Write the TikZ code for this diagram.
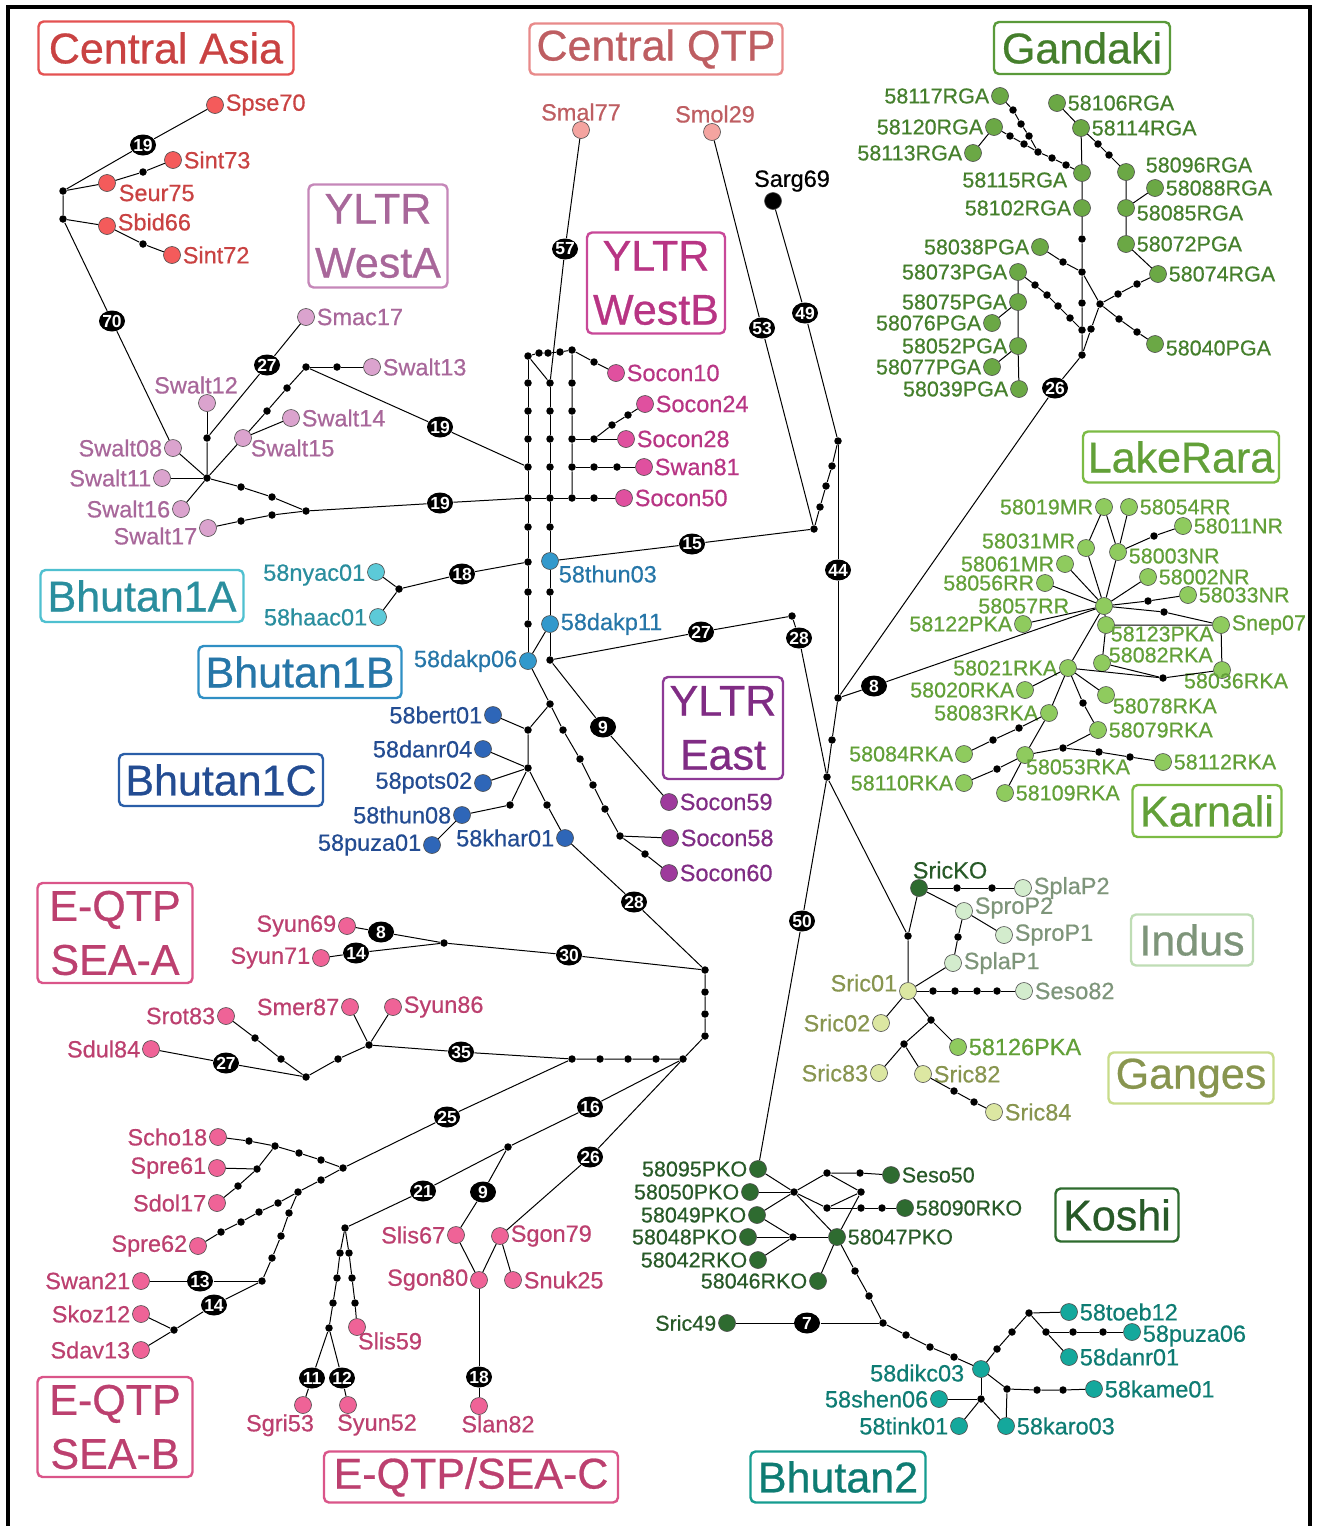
\documentclass[tikz,border=0pt]{standalone}
\usepackage{fontspec}
\setmainfont[FakeBold=0.6]{Liberation Sans}
\newfontfamily\mutfont{Liberation Sans Bold}
\usetikzlibrary{shapes.geometric}

% F = haplotype fill, T = text, B = box
\definecolor{caF}{HTML}{F45B5B}\definecolor{caT}{HTML}{C94242}\definecolor{caB}{HTML}{E45252}
\definecolor{cqF}{HTML}{F4A4A0}\definecolor{cqT}{HTML}{BE5E62}\definecolor{cqB}{HTML}{E88A8A}
\definecolor{waF}{HTML}{DBA3CE}\definecolor{waT}{HTML}{A8679A}\definecolor{waB}{HTML}{C587B9}
\definecolor{wbF}{HTML}{E0509F}\definecolor{wbT}{HTML}{B83584}\definecolor{wbB}{HTML}{C84898}
\definecolor{eaF}{HTML}{9E3A9C}\definecolor{eaT}{HTML}{802C84}\definecolor{eaB}{HTML}{8E3A96}
\definecolor{baF}{HTML}{5CCAD8}\definecolor{baT}{HTML}{2A8E9E}\definecolor{baB}{HTML}{4FC0D0}
\definecolor{bbF}{HTML}{3399CC}\definecolor{bbT}{HTML}{2676A8}\definecolor{bbB}{HTML}{2F8FC4}
\definecolor{bcF}{HTML}{2E66B8}\definecolor{bcT}{HTML}{234C92}\definecolor{bcB}{HTML}{2A5EA8}
\definecolor{seF}{HTML}{EF6397}\definecolor{seT}{HTML}{BC406F}\definecolor{seB}{HTML}{DA5589}
\definecolor{gaF}{HTML}{6BA845}\definecolor{gaT}{HTML}{457F2C}\definecolor{gaB}{HTML}{5A9A3A}
\definecolor{krF}{HTML}{8FCB5E}\definecolor{krT}{HTML}{62A038}\definecolor{krB}{HTML}{7CBB45}
\definecolor{koF}{HTML}{2E6B30}\definecolor{koT}{HTML}{285A28}\definecolor{koB}{HTML}{2E6B2E}
\definecolor{btF}{HTML}{14A89C}\definecolor{btT}{HTML}{0E7C73}\definecolor{btB}{HTML}{169C90}
\definecolor{inF}{HTML}{D3ECCD}\definecolor{inT}{HTML}{7E957A}\definecolor{inB}{HTML}{BFDDB5}
\definecolor{ggF}{HTML}{DCE7A2}\definecolor{ggT}{HTML}{88954F}\definecolor{ggB}{HTML}{C8DC8A}

\tikzset{
  hap/.style={circle, draw=black!70, line width=0.6pt, minimum size=17pt, inner sep=0pt, label distance=2.5pt},
  med/.style={circle, fill=black, minimum size=7.5pt, inner sep=0pt},
  mut/.style={ellipse, fill=black, text=white, inner xsep=-3pt, inner ysep=-2pt,
    minimum width=26pt, minimum height=21pt, font=\mutfont\fontsize{17.5}{17.5}\selectfont},
  grp/.style={draw, rounded corners=5pt, line width=2.4pt, fill=white, align=center,
    inner sep=0pt, font=\fontsize{43}{54}\selectfont},
  every label/.style={inner xsep=1.5pt, inner ysep=0pt, font=\fontsize{23.5}{23.5}\selectfont},
  small labels/.style={every label/.append style={font=\fontsize{21.5}{21.5}\selectfont}},
  ca/.style={hap, fill=caF}, cq/.style={hap, fill=cqF},
  wa/.style={hap, fill=waF}, wb/.style={hap, fill=wbF},
  ea/.style={hap, fill=eaF}, se/.style={hap, fill=seF},
  ba/.style={hap, fill=baF}, bb/.style={hap, fill=bbF},
  bc/.style={hap, fill=bcF}, bt/.style={hap, fill=btF},
  ga/.style={hap, fill=gaF}, kr/.style={hap, fill=krF},
  ko/.style={hap, fill=koF}, ind/.style={hap, fill=inF},
  gg/.style={hap, fill=ggF},
}

\begin{document}
\begin{tikzpicture}[x=1pt, y=-1pt, line width=1pt]

    \useasboundingbox (0,0) rectangle (1317,1526);
    \draw[line width=4pt] (8,1526) -- (8,7) -- (1310,7) -- (1310,1526);

    % region boxes
    \node[grp, draw=caB, text=caT, minimum width=255pt, minimum height=53pt] (CentralAsia) at (166,48) {Central Asia};
    \node[grp, draw=cqB, text=cqT, minimum width=253pt, minimum height=51pt] (CentralQTP) at (656,49) {Central QTP};
    \node[grp, draw=gaB, text=gaT, minimum width=176pt, minimum height=52pt] (Gandaki) at (1082,48) {Gandaki};
    \node[grp, draw=waB, text=waT, minimum width=139pt, minimum height=103pt] (WestA) at (378,236) {YLTR\\WestA};
    \node[grp, draw=wbB, text=wbT, minimum width=138pt, minimum height=101pt] (WestB) at (656,283) {YLTR\\WestB};
    \node[grp, draw=krB, text=krT, minimum width=196pt, minimum height=51pt] (LakeRara) at (1181,457) {LakeRara};
    \node[grp, draw=baB, text=baT, minimum width=203pt, minimum height=52pt] (Bhutan1A) at (142,596) {Bhutan1A};
    \node[grp, draw=bbB, text=bbT, minimum width=203pt, minimum height=52pt] (Bhutan1B) at (300,672) {Bhutan1B};
    \node[grp, draw=bcB, text=bcT, minimum width=204pt, minimum height=52pt] (Bhutan1C) at (221,780) {Bhutan1C};
    \node[grp, draw=eaB, text=eaT, minimum width=120pt, minimum height=102pt] (East) at (723,728) {YLTR\\East};
    \node[grp, draw=krB, text=krT, minimum width=149pt, minimum height=52pt] (Karnali) at (1207,811) {Karnali};
    \node[grp, draw=inB, text=inT, minimum width=122pt, minimum height=51pt] (Indus) at (1192,940) {Indus};
    \node[grp, draw=seB, text=seT, minimum width=155pt, minimum height=100pt] (SEAA) at (115,933) {E-QTP\\SEA-A};
    \node[grp, draw=ggB, text=ggT, minimum width=165pt, minimum height=51pt] (Ganges) at (1191,1078) {Ganges};
    \node[grp, draw=koB, text=koT, minimum width=123pt, minimum height=53pt] (Koshi) at (1117,1215) {Koshi};
    \node[grp, draw=seB, text=seT, minimum width=155pt, minimum height=100pt] (SEAB) at (115,1427) {E-QTP\\SEA-B};
    \node[grp, draw=seB, text=seT, minimum width=294pt, minimum height=51pt] (SEAC) at (471,1477) {E-QTP/SEA-C};
    \node[grp, draw=btB, text=btT, minimum width=175pt, minimum height=51pt] (Bhutan2) at (838,1477) {Bhutan2};

    % Central Asia
    \begin{scope}[every label/.append style={text=caT}]
    \node[ca, label=right:Spse70] (Spse70) at (215,105) {};
    \node[ca, label=right:Sint73] (Sint73) at (173,160) {};
    \node[ca, label={[xshift=1pt,yshift=-10pt]right:Seur75}] (Seur75) at (107,183) {};
    \node[ca, label={[yshift=4pt]right:Sbid66}] (Sbid66) at (107,226) {};
    \node[ca, label=right:Sint72] (Sint72) at (172,255) {};
    \end{scope}
    \node[med] (ca1) at (63,191) {};  \node[med] (ca2) at (63,219) {};
    \node[med] (ca3) at (143,172) {}; \node[med] (ca4) at (143,244) {};
    \node[mut] (m19a) at (143,145) {19};
    \node[mut] (m70) at (112,321) {70};

    % YLTR WestA
    \begin{scope}[every label/.append style={text=waT}]
    \node[wa, label=right:Smac17] (Smac17) at (306,317) {};
    \node[wa, label={[xshift=-11pt]above:Swalt12}] (Swalt12) at (207,403) {};
    \node[wa, label=right:Swalt13] (Swalt13) at (372,367) {};
    \node[wa, label=right:Swalt14] (Swalt14) at (291,418) {};
    \node[wa, label={[xshift=-3pt,yshift=-10pt]right:Swalt15}] (Swalt15) at (243,438) {};
    \node[wa, label=left:Swalt08] (Swalt08) at (173,448) {};
    \node[wa, label=left:Swalt11] (Swalt11) at (162,478) {};
    \node[wa, label=left:Swalt16] (Swalt16) at (181,509) {};
    \node[wa, label={[yshift=-8pt]left:Swalt17}] (Swalt17) at (208,528) {};
    \end{scope}
    \node[med] (wa0) at (207,478) {}; \node[med] (wa1) at (207,438) {};
    \node[med] (wa2) at (306,367) {}; \node[med] (wa3) at (337,367) {};
    \node[med] (wa4) at (287,388) {}; \node[med] (wa5) at (267,411) {};
    \node[med] (wa6) at (241,487) {}; \node[med] (wa7) at (272,497) {};
    \node[med] (wa8) at (306,511) {}; \node[med] (wa9) at (241,521) {};
    \node[med] (wa10) at (272,515) {};
    \node[mut] (m27a) at (267,365) {27};
    \node[mut] (m19b) at (440,427) {19};
    \node[mut] (m19c) at (440,503) {19};

    % Central QTP
    \begin{scope}[every label/.append style={text=cqT}]
    \node[cq, label=above:Smal77] (Smal77) at (581,130) {};
    \node[cq, label={[xshift=3pt]above:Smol29}] (Smol29) at (712,132) {};
    \end{scope}
    \node[hap, fill=black, label={[xshift=19pt]above:Sarg69}] (Sarg69) at (773,201) {};
    \node[mut] (m57) at (565,249) {57};
    \node[mut] (m53) at (762,328) {53};
    \node[mut] (m49) at (805,313) {49};

    % median columns
    \node[med] (c1a) at (528,356) {}; \node[med] (c1b) at (528,383) {};
    \node[med] (c1c) at (528,411) {}; \node[med] (c1d) at (528,439) {};
    \node[med] (c1e) at (528,467) {}; \node[med] (c1f) at (528,498) {};
    \node[med] (c1g) at (528,527) {}; \node[med] (c1h) at (528,562) {};
    \node[med] (c1i) at (528,592) {}; \node[med] (c1j) at (528,624) {};
    \node[med] (c2a) at (550,383) {}; \node[med] (c2b) at (550,411) {};
    \node[med] (c2c) at (550,439) {}; \node[med] (c2d) at (550,467) {};
    \node[med] (c2e) at (550,498) {}; \node[med] (c2f) at (550,527) {};
    \node[med] (c2g) at (550,592) {}; \node[med] (c2h) at (550,660) {};
    \node[med] (t1) at (539,353) {};  \node[med] (t2) at (548,353) {};
    \node[med] (t3) at (560,352) {};
    \node[med] (c3a) at (572,350) {}; \node[med] (c3b) at (572,383) {};
    \node[med] (c3c) at (572,411) {}; \node[med] (c3d) at (572,439) {};
    \node[med] (c3e) at (572,467) {}; \node[med] (c3f) at (572,498) {};

    % YLTR WestB
    \begin{scope}[every label/.append style={text=wbT}]
    \node[wb, label=right:Socon10] (Socon10) at (616,373) {};
    \node[wb, label=right:Socon24] (Socon24) at (645,404) {};
    \node[wb, label=right:Socon28] (Socon28) at (626,439) {};
    \node[wb, label=right:Swan81] (Swan81) at (644,467) {};
    \node[wb, label=right:Socon50] (Socon50) at (624,498) {};
    \end{scope}
    \node[med] (w1) at (594,362) {}; \node[med] (w2) at (594,439) {};
    \node[med] (w3) at (612,425) {}; \node[med] (w4) at (628,415) {};
    \node[med] (w5) at (594,467) {}; \node[med] (w6) at (617,467) {};
    \node[med] (w7) at (594,498) {};

    % Bhutan1A / 1B
    \begin{scope}[every label/.append style={text=baT}]
    \node[ba, label={[yshift=-3pt]left:58nyac01}] (nyac01) at (376,572) {};
    \node[ba, label=left:58haac01] (haac01) at (378,617) {};
    \end{scope}
    \node[med] (a1) at (399,589) {};
    \node[mut] (m18a) at (462,574) {18};
    \begin{scope}[every label/.append style={text=bbT}]
    \node[bb, label=left:58dakp06] (dakp06) at (528,661) {};
    \node[bb, label={[xshift=-2pt,yshift=-13pt]right:58thun03}] (thun03) at (550,561) {};
    \node[bb, label=right:58dakp11] (dakp11) at (550,624) {};
    \end{scope}
    \node[mut] (m15) at (692,544) {15};
    \node[mut] (m27b) at (701,632) {27};
    \node[mut] (m9a) at (603,727) {9};

    % backbone
    \node[med] (q1) at (814,529) {}; \node[med] (q2) at (820,507) {};
    \node[med] (q3) at (826,486) {}; \node[med] (q4) at (832,466) {};
    \node[med] (q5) at (838,441) {}; \node[med] (q6) at (838,698) {};
    \node[med] (q7) at (832,740) {}; \node[med] (q8) at (827,777) {};
    \node[med] (q9) at (792,616) {};
    \node[mut] (m44) at (838,570) {44};
    \node[mut] (m8a) at (874,686) {8};
    \node[mut] (m26a) at (1055,388) {26};
    \node[mut] (m28a) at (799,638) {28};
    \node[mut] (m50) at (802,921) {50};

    % YLTR East
    \begin{scope}[every label/.append style={text=eaT}]
    \node[ea, label=right:Socon59] (Socon59) at (669,802) {};
    \node[ea, label=right:Socon58] (Socon58) at (670,838) {};
    \node[ea, label=right:Socon60] (Socon60) at (669,873) {};
    \end{scope}
    \node[med] (e1) at (550,704) {}; \node[med] (e2) at (563,730) {};
    \node[med] (e3) at (580,759) {}; \node[med] (e4) at (593,785) {};
    \node[med] (e5) at (605,809) {}; \node[med] (e6) at (620,836) {};
    \node[med] (e7) at (645,854) {};

    % Bhutan1C
    \begin{scope}[every label/.append style={text=bcT}]
    \node[bc, label=left:58bert01] (bert01) at (493,715) {};
    \node[bc, label=left:58danr04] (danr04) at (483,749) {};
    \node[bc, label=left:58pots02] (pots02) at (483,783) {};
    \node[bc, label=left:58thun08] (thun08) at (462,815) {};
    \node[bc, label=left:58puza01] (puza01) at (432,845) {};
    \node[bc, label=left:58khar01] (khar01) at (565,838) {};
    \end{scope}
    \node[med] (b1) at (528,730) {}; \node[med] (b2) at (528,768) {};
    \node[med] (b3) at (510,805) {}; \node[med] (b4) at (547,805) {};
    \node[mut] (m28b) at (634,902) {28};

    % E-QTP / SEA
    \begin{scope}[every label/.append style={text=seT}]
    \node[se, label=left:Syun69] (Syun69) at (347,926) {};
    \node[se, label=left:Syun71] (Syun71) at (321,958) {};
    \node[se, label=left:Srot83] (Srot83) at (226,1016) {};
    \node[se, label=left:Sdul84] (Sdul84) at (151,1049) {};
    \node[se, label=left:Smer87] (Smer87) at (350,1007) {};
    \node[se, label=right:Syun86] (Syun86) at (393,1007) {};
    \node[se, label=left:Scho18] (Scho18) at (218,1137) {};
    \node[se, label=left:Spre61] (Spre61) at (217,1168) {};
    \node[se, label=left:Sdol17] (Sdol17) at (217,1203) {};
    \node[se, label=left:Spre62] (Spre62) at (198,1246) {};
    \node[se, label=left:Swan21] (Swan21) at (141,1281) {};
    \node[se, label=left:Skoz12] (Skoz12) at (141,1314) {};
    \node[se, label=left:Sdav13] (Sdav13) at (141,1350) {};
    \node[se, label=left:Slis67] (Slis67) at (456,1235) {};
    \node[se, label=left:Sgon80] (Sgon80) at (479,1280) {};
    \node[se, label=right:Sgon79] (Sgon79) at (500,1236) {};
    \node[se, label=right:Snuk25] (Snuk25) at (513,1280) {};
    \node[se, label={[xshift=19pt]below:Slan82}] (Slan82) at (479,1406) {};
    \node[se, label={[xshift=33pt,yshift=4pt]below:Slis59}] (Slis59) at (357,1327) {};
    \node[se, label={[xshift=-23pt]below:Sgri53}] (Sgri53) at (303,1405) {};
    \node[se, label={[xshift=29pt]below:Syun52}] (Syun52) at (348,1405) {};
    \end{scope}
    \node[med] (s1) at (705,970) {};  \node[med] (s2) at (444,943) {};
    \node[med] (s3) at (705,992) {};  \node[med] (s4) at (705,1014) {};
    \node[med] (s5) at (705,1036) {}; \node[med] (s6) at (683,1059) {};
    \node[med] (s7) at (255,1038) {}; \node[med] (s8) at (281,1059) {};
    \node[med] (s9) at (306,1077) {}; \node[med] (s10) at (338,1059) {};
    \node[med] (s11) at (369,1045) {}; \node[med] (s12) at (572,1059) {};
    \node[med] (s13) at (600,1059) {}; \node[med] (s14) at (628,1059) {};
    \node[med] (s15) at (656,1059) {}; \node[med] (s16) at (508,1147) {};
    \node[med] (s17) at (343,1168) {};
    \node[med] (s18) at (249,1141) {}; \node[med] (s19) at (275,1146) {};
    \node[med] (s20) at (299,1153) {}; \node[med] (s21) at (321,1160) {};
    \node[med] (s22) at (257,1169) {}; \node[med] (s23) at (238,1186) {};
    \node[med] (s24) at (321,1180) {}; \node[med] (s25) at (298,1192) {};
    \node[med] (s26) at (278,1203) {}; \node[med] (s27) at (259,1212) {};
    \node[med] (s28) at (241,1222) {}; \node[med] (s29) at (221,1232) {};
    \node[med] (s30) at (289,1213) {}; \node[med] (s31) at (281,1236) {};
    \node[med] (s32) at (272,1258) {}; \node[med] (s33) at (262,1281) {};
    \node[med] (s34) at (174,1330) {};
    \node[med] (s35) at (345,1228) {}; \node[med] (s36) at (340,1253) {};
    \node[med] (s37) at (337,1278) {}; \node[med] (s38) at (333,1303) {};
    \node[med] (s39) at (329,1328) {}; \node[med] (s40) at (349,1253) {};
    \node[med] (s41) at (352,1278) {}; \node[med] (s42) at (355,1303) {};
    \node[mut] (m8b) at (381,932) {8};
    \node[mut] (m14a) at (356,953) {14};
    \node[mut] (m30) at (569,955) {30};
    \node[mut] (m27c) at (226,1063) {27};
    \node[mut] (m35) at (461,1052) {35};
    \node[mut] (m16) at (590,1107) {16};
    \node[mut] (m26b) at (590,1157) {26};
    \node[mut] (m25) at (447,1117) {25};
    \node[mut] (m13) at (200,1281) {13};
    \node[mut] (m14b) at (214,1305) {14};
    \node[mut] (m21) at (423,1191) {21};
    \node[mut] (m9b) at (483,1192) {9};
    \node[mut] (m18b) at (479,1377) {18};
    \node[mut] (m11) at (312,1378) {11};
    \node[mut] (m12) at (342,1378) {12};

    % Gandaki
    \begin{scope}[small labels, every label/.append style={text=gaT}]
    \node[ga, label=left:58117RGA] (g117) at (1000,96) {};
    \node[ga, label=right:58106RGA] (g106) at (1057,103) {};
    \node[ga, label=right:58114RGA] (g114) at (1081,128) {};
    \node[ga, label=left:58120RGA] (g120) at (994,127) {};
    \node[ga, label=left:58113RGA] (g113) at (973,153) {};
    \node[ga, label={[xshift=-4pt,yshift=-7pt]left:58115RGA}] (g115) at (1082,173) {};
    \node[ga, label=left:58102RGA] (g102) at (1082,208) {};
    \node[ga, label={[xshift=9pt,yshift=7pt]right:58096RGA}] (g096) at (1126,172) {};
    \node[ga, label=right:58088RGA] (g088) at (1155,188) {};
    \node[ga, label={[yshift=-5pt]right:58085RGA}] (g085) at (1126,208) {};
    \node[ga, label=right:58072PGA] (g072) at (1126,244) {};
    \node[ga, label=right:58074RGA] (g074) at (1158,274) {};
    \node[ga, label=left:58038PGA] (g038) at (1040,247) {};
    \node[ga, label=left:58073PGA] (g073) at (1018,272) {};
    \node[ga, label=left:58075PGA] (g075) at (1018,302) {};
    \node[ga, label=left:58076PGA] (g076) at (992,323) {};
    \node[ga, label=left:58052PGA] (g052) at (1018,346) {};
    \node[ga, label=left:58077PGA] (g077) at (992,367) {};
    \node[ga, label=left:58039PGA] (g039) at (1019,389) {};
    \node[ga, label={[yshift=-4pt]right:58040PGA}] (g040) at (1155,344) {};
    \end{scope}
    \node[med] (g1) at (1013,110) {};  \node[med] (g2) at (1021,124) {};
    \node[med] (g3) at (1029,136) {};  \node[med] (g4) at (1038,152) {};
    \node[med] (g5) at (1010,136) {};  \node[med] (g6) at (1024,144) {};
    \node[med] (g7) at (1052,158) {};  \node[med] (g8) at (1066,165) {};
    \node[med] (g9) at (1082,239) {};  \node[med] (g10) at (1082,272) {};
    \node[med] (g11) at (1082,303) {}; \node[med] (g12) at (1082,330) {};
    \node[med] (gd) at (1082,355) {};  \node[med] (g13) at (1098,144) {};
    \node[med] (g14) at (1109,155) {}; \node[med] (g15) at (1063,262) {};
    \node[med] (g16) at (1100,304) {}; \node[med] (g17) at (1118,294) {};
    \node[med] (g18) at (1137,284) {}; \node[med] (g19) at (1119,319) {};
    \node[med] (g20) at (1137,332) {}; \node[med] (g21) at (1091,329) {};
    \node[med] (g22) at (1035,285) {}; \node[med] (g23) at (1047,295) {};
    \node[med] (g24) at (1058,306) {}; \node[med] (g25) at (1070,318) {};

    % LakeRara / Karnali
    \begin{scope}[small labels, every label/.append style={text=krT}]
    \node[kr, label=left:58019MR] (r019) at (1104,507) {};
    \node[kr, label=right:58054RR] (r054) at (1129,507) {};
    \node[kr, label={[yshift=7pt]left:58031MR}] (r031) at (1086,548) {};
    \node[kr, label={[yshift=-4pt]right:58003NR}] (r003) at (1118,552) {};
    \node[kr, label=right:58011NR] (r011) at (1183,526) {};
    \node[kr, label=left:58061MR] (r061) at (1065,564) {};
    \node[kr, label=left:58056RR] (r056) at (1045,583) {};
    \node[kr, label=right:58002NR] (r002) at (1148,577) {};
    \node[kr, label=right:58033NR] (r033) at (1188,595) {};
    \node[kr, label={[xshift=-24pt]left:58057RR}] (r057) at (1104,606) {};
    \node[kr, label=left:58122PKA] (r122) at (1023,624) {};
    \node[kr, label={[xshift=-6pt,yshift=-9pt]right:58123PKA}] (r123) at (1106,625) {};
    \node[kr, label=right:Snep07] (Snep07) at (1221,625) {};
    \node[kr, label={[xshift=-4pt,yshift=8pt]right:58082RKA}] (r082) at (1102,663) {};
    \node[kr, label={[xshift=14pt,yshift=6pt]below:58036RKA}] (r036) at (1222,670) {};
    \node[kr, label=left:58021RKA] (r021) at (1068,668) {};
    \node[kr, label=left:58020RKA] (r020) at (1025,690) {};
    \node[kr, label={[xshift=-4pt,yshift=-11pt]right:58078RKA}] (r078) at (1106,695) {};
    \node[kr, label=right:58079RKA] (r079) at (1098,730) {};
    \node[kr, label=left:58083RKA] (r083) at (1049,713) {};
    \node[kr, label=left:58084RKA] (r084) at (964,754) {};
    \node[kr, label={[xshift=53pt,yshift=5pt]below:58053RKA}] (r053) at (1025,755) {};
    \node[kr, label=left:58110RKA] (r110) at (964,783) {};
    \node[kr, label=right:58109RKA] (r109) at (1005,793) {};
    \node[kr, label=right:58112RKA] (r112) at (1163,762) {};
    \end{scope}
    \node[med] (r1) at (1154,536) {};  \node[med] (r2) at (1148,601) {};
    \node[med] (r3) at (1164,612) {};  \node[med] (r4) at (1163,678) {};
    \node[med] (r5) at (1083,703) {};  \node[med] (r6) at (1019,728) {};
    \node[med] (r7) at (993,740) {};   \node[med] (r8) at (997,769) {};
    \node[med] (r9) at (1063,748) {};  \node[med] (r10) at (1099,752) {};
    \node[med] (r11) at (1130,757) {};

    % Indus / Ganges
    \node[ko, label={[text=koT, xshift=31pt]above:SricKO}] (SricKO) at (919,888) {};
    \begin{scope}[every label/.append style={text=inT}]
    \node[ind, label=right:SplaP2] (SplaP2) at (1023,888) {};
    \node[ind, label={[yshift=3pt]right:SproP2}] (SproP2) at (964,911) {};
    \node[ind, label=right:SproP1] (SproP1) at (1004,935) {};
    \node[ind, label=right:SplaP1] (SplaP1) at (953,963) {};
    \node[ind, label=right:Seso82] (Seso82) at (1024,991) {};
    \end{scope}
    \begin{scope}[every label/.append style={text=ggT}]
    \node[gg, label={[yshift=8pt]left:Sric01}] (Sric01) at (908,991) {};
    \node[gg, label=left:Sric02] (Sric02) at (881,1023) {};
    \node[gg, label=left:Sric83] (Sric83) at (879,1073) {};
    \node[gg, label=right:Sric82] (Sric82) at (923,1074) {};
    \node[gg, label=right:Sric84] (Sric84) at (994,1112) {};
    \end{scope}
    \node[kr, label={[text=krT]right:58126PKA}] (k126) at (958,1047) {};
    \node[med] (i1) at (908,936) {};  \node[med] (i2) at (957,888) {};
    \node[med] (i3) at (992,888) {};  \node[med] (i4) at (958,937) {};
    \node[med] (i5) at (933,991) {};  \node[med] (i6) at (955,991) {};
    \node[med] (i7) at (977,991) {};  \node[med] (i8) at (997,991) {};
    \node[med] (i9) at (931,1020) {}; \node[med] (i10) at (904,1044) {};
    \node[med] (i11) at (954,1091) {}; \node[med] (i12) at (974,1102) {};

    % Koshi
    \begin{scope}[small labels, every label/.append style={text=koT}]
    \node[ko, label=left:58095PKO] (k095) at (758,1169) {};
    \node[ko, label=left:58050PKO] (k050) at (750,1192) {};
    \node[ko, label=left:58049PKO] (k049) at (757,1215) {};
    \node[ko, label=left:58048PKO] (k048) at (748,1237) {};
    \node[ko, label=left:58042RKO] (k042) at (758,1260) {};
    \node[ko, label=left:58046RKO] (k046) at (818,1281) {};
    \node[ko, label=right:58047PKO] (k047) at (837,1237) {};
    \node[ko, label=right:Seso50] (Seso50) at (891,1175) {};
    \node[ko, label=right:58090RKO] (k090) at (905,1208) {};
    \node[ko, label=left:Sric49] (Sric49) at (727,1323) {};
    \end{scope}
    \node[med] (ko1) at (794,1192) {}; \node[med] (ko2) at (827,1173) {};
    \node[med] (ko3) at (827,1208) {}; \node[med] (ko4) at (860,1173) {};
    \node[med] (ko5) at (861,1192) {}; \node[med] (ko6) at (861,1208) {};
    \node[med] (ko7) at (882,1208) {}; \node[med] (ko8) at (793,1237) {};
    \node[med] (ko9) at (855,1271) {}; \node[med] (ko10) at (869,1296) {};
    \node[med] (ko11) at (883,1323) {}; \node[med] (ko12) at (906,1335) {};
    \node[med] (ko13) at (930,1347) {}; \node[med] (ko14) at (954,1357) {};
    \node[mut] (m7) at (807,1323) {7};

    % Bhutan2
    \begin{scope}[every label/.append style={text=btT}]
    \node[bt, label={[xshift=-6pt,yshift=-4pt]left:58dikc03}] (dikc03) at (981,1369) {};
    \node[bt, label=right:58toeb12] (toeb12) at (1069,1312) {};
    \node[bt, label=right:58danr01] (danr01) at (1069,1357) {};
    \node[bt, label={[yshift=-4pt]right:58puza06}] (puza06) at (1132,1332) {};
    \node[bt, label=right:58kame01] (kame01) at (1094,1389) {};
    \node[bt, label=right:58karo03] (karo03) at (1006,1426) {};
    \node[bt, label=left:58shen06] (shen06) at (939,1399) {};
    \node[bt, label=left:58tink01] (tink01) at (959,1426) {};
    \end{scope}
    \node[med] (bt1) at (997,1349) {};  \node[med] (bt2) at (1012,1332) {};
    \node[med] (bt3) at (1029,1313) {}; \node[med] (bt4) at (1046,1332) {};
    \node[med] (bt5) at (1073,1332) {}; \node[med] (bt6) at (1103,1332) {};
    \node[med] (bt7) at (1007,1389) {}; \node[med] (bt8) at (1037,1390) {};
    \node[med] (bt9) at (1063,1390) {}; \node[med] (bt10) at (981,1399) {};

    % links
    \draw (ca1) -- (m19a) -- (Spse70);
    \draw (ca1) -- (Seur75) -- (ca3) -- (Sint73);
    \draw (ca1) -- (ca2) -- (Sbid66) -- (ca4) -- (Sint72);
    \draw (ca2) -- (m70) -- (Swalt08) -- (wa0);

    \draw (Smac17) -- (m27a) -- (wa1) -- (wa0);
    \draw (Swalt12) -- (wa1);
    \draw (wa2) -- (wa3) -- (Swalt13);
    \draw (wa2) -- (wa4) -- (wa5) -- (Swalt15) -- (wa0);
    \draw (Swalt15) -- (Swalt14);
    \draw (wa2) -- (m19b) -- (c1e);
    \draw (Swalt11) -- (wa0);
    \draw (Swalt16) -- (wa0);
    \draw (wa0) -- (wa6) -- (wa7) -- (wa8);
    \draw (Swalt17) -- (wa9) -- (wa10) -- (wa8);
    \draw (wa8) -- (m19c) -- (c1f);

    \draw (c1a) -- (c1b) -- (c1c) -- (c1d) -- (c1e) -- (c1f) -- (c1g) -- (c1h) -- (c1i) -- (c1j) -- (dakp06);
    \draw (c1a) -- (t1) -- (t2) -- (t3) -- (c3a) -- (c3b) -- (c3c) -- (c3d) -- (c3e) -- (c3f);
    \draw (c1a) -- (c2a);
    \draw (Smal77) -- (m57) -- (c2a);
    \draw (c2a) -- (c2b) -- (c2c) -- (c2d) -- (c2e) -- (c2f) -- (thun03) -- (c2g) -- (dakp11) -- (c2h);
    \draw (c3a) -- (w1) -- (Socon10);
    \draw (c3d) -- (w2) -- (Socon28);
    \draw (w2) -- (w3) -- (w4) -- (Socon24);
    \draw (c3e) -- (w5) -- (w6) -- (Swan81);
    \draw (c1f) -- (c2e) -- (c3f) -- (w7) -- (Socon50);

    \draw (c1h) -- (m18a) -- (a1) -- (nyac01);
    \draw (a1) -- (haac01);
    \draw (thun03) -- (m15) -- (q1);
    \draw (Smol29) -- (m53) -- (q1);
    \draw (q1) -- (q2) -- (q3) -- (q4) -- (q5);
    \draw (Sarg69) -- (m49) -- (q5);
    \draw (q5) -- (m44) -- (q6);
    \draw (q6) -- (m8a) -- (r057);
    \draw (q6) -- (m26a) -- (gd);
    \draw (q6) -- (q7) -- (q8);
    \draw (c2h) -- (m27b) -- (q9) -- (m28a) -- (q8);
    \draw (q8) -- (m50) -- (k095);
    \draw (q8) -- (i1);

    \draw (dakp11) -- (dakp06);
    \draw (dakp06) -- (e1) -- (e2) -- (e3) -- (e4) -- (e5) -- (e6) -- (Socon58);
    \draw (e6) -- (e7) -- (Socon60);
    \draw (c2h) -- (m9a) -- (Socon59);
    \draw (e1) -- (b1) -- (bert01);
    \draw (b1) -- (b2) -- (danr04);
    \draw (b2) -- (pots02);
    \draw (b2) -- (b3) -- (thun08) -- (puza01);
    \draw (b2) -- (b4) -- (khar01) -- (m28b) -- (s1);

    \draw (Syun69) -- (m8b) -- (s2);
    \draw (Syun71) -- (m14a) -- (s2);
    \draw (s2) -- (m30) -- (s1);
    \draw (s1) -- (s3) -- (s4) -- (s5) -- (s6);
    \draw (Srot83) -- (s7) -- (s8) -- (s9);
    \draw (Sdul84) -- (m27c) -- (s9);
    \draw (s9) -- (s10) -- (s11);
    \draw (Smer87) -- (s11);
    \draw (Syun86) -- (s11);
    \draw (s11) -- (m35) -- (s12) -- (s13) -- (s14) -- (s15) -- (s6);
    \draw (s6) -- (m16) -- (s16);
    \draw (s6) -- (m26b) -- (Sgon79);
    \draw (s12) -- (m25) -- (s17);

    \draw (Scho18) -- (s18) -- (s19) -- (s20) -- (s21) -- (s17);
    \draw (Spre61) -- (s22) -- (s19);
    \draw (Sdol17) -- (s23) -- (s22);
    \draw (s17) -- (s24) -- (s25) -- (s26) -- (s27) -- (s28) -- (s29) -- (Spre62);
    \draw (s25) -- (s30) -- (s31) -- (s32) -- (s33);
    \draw (Swan21) -- (m13) -- (s33);
    \draw (s33) -- (m14b) -- (s34);
    \draw (Skoz12) -- (s34);
    \draw (Sdav13) -- (s34);

    \draw (s16) -- (m21) -- (s35);
    \draw (s35) -- (s36) -- (s37) -- (s38) -- (s39);
    \draw (s35) -- (s40) -- (s41) -- (s42) -- (Slis59);
    \draw (s39) -- (m11) -- (Sgri53);
    \draw (s39) -- (m12) -- (Syun52);
    \draw (s16) -- (m9b) -- (Slis67) -- (Sgon80);
    \draw (Sgon79) -- (Sgon80);
    \draw (Sgon79) -- (Snuk25);
    \draw (Sgon80) -- (m18b) -- (Slan82);

    \draw (g117) -- (g1) -- (g2) -- (g3) -- (g4);
    \draw (g120) -- (g5) -- (g6) -- (g4) -- (g7) -- (g8) -- (g115);
    \draw (g120) -- (g113);
    \draw (g106) -- (g114) -- (g115) -- (g102) -- (g9) -- (g10) -- (g11) -- (g12) -- (gd);
    \draw (g114) -- (g13) -- (g14) -- (g096) -- (g085) -- (g072) -- (g074);
    \draw (g085) -- (g088);
    \draw (g038) -- (g15) -- (g10) -- (g16) -- (g17) -- (g18) -- (g074);
    \draw (g16) -- (g19) -- (g20) -- (g040);
    \draw (g16) -- (g21) -- (gd);
    \draw (g073) -- (g22) -- (g23) -- (g24) -- (g25) -- (g12);
    \draw (g073) -- (g075) -- (g052) -- (g039);
    \draw (g075) -- (g076);
    \draw (g052) -- (g077);

    \draw (r019) -- (r031) -- (r057);
    \draw (r019) -- (r003) -- (r057);
    \draw (r054) -- (r003) -- (r1) -- (r011);
    \draw (r061) -- (r057);
    \draw (r056) -- (r057);
    \draw (r002) -- (r057);
    \draw (r057) -- (r2) -- (r033);
    \draw (r122) -- (r057);
    \draw (r057) -- (r3) -- (Snep07);
    \draw (r057) -- (r123) -- (Snep07) -- (r036);
    \draw (r123) -- (r082) -- (r4) -- (r036);
    \draw (r057) -- (r021) -- (r4);
    \draw (r021) -- (r020);
    \draw (r021) -- (r078);
    \draw (r021) -- (r5) -- (r079);
    \draw (r021) -- (r083) -- (r6) -- (r7) -- (r084);
    \draw (r083) -- (r053) -- (r8) -- (r110);
    \draw (r053) -- (r109);
    \draw (r053) -- (r9) -- (r079);
    \draw (r9) -- (r10) -- (r11) -- (r112);

    \draw (SricKO) -- (i1) -- (Sric01);
    \draw (SricKO) -- (i2) -- (i3) -- (SplaP2);
    \draw (SricKO) -- (SproP2) -- (SproP1);
    \draw (SproP2) -- (i4) -- (SplaP1) -- (Sric01);
    \draw (Sric01) -- (i5) -- (i6) -- (i7) -- (i8) -- (Seso82);
    \draw (Sric01) -- (Sric02);
    \draw (Sric01) -- (i9) -- (k126);
    \draw (i9) -- (i10) -- (Sric83);
    \draw (i10) -- (Sric82) -- (i11) -- (i12) -- (Sric84);

    \draw (k095) -- (ko1) -- (ko3) -- (ko5);
    \draw (k050) -- (ko1);
    \draw (k049) -- (ko1);
    \draw (ko1) -- (ko2) -- (ko4) -- (Seso50);
    \draw (ko2) -- (ko5) -- (k047);
    \draw (ko1) -- (k047);
    \draw (ko3) -- (ko6) -- (ko7) -- (k090);
    \draw (k048) -- (ko8) -- (k047);
    \draw (k049) -- (ko8);
    \draw (k042) -- (ko8);
    \draw (k046) -- (k047);
    \draw (k047) -- (ko9) -- (ko10) -- (ko11);
    \draw (Sric49) -- (m7) -- (ko11);
    \draw (ko11) -- (ko12) -- (ko13) -- (ko14) -- (dikc03);

    \draw (dikc03) -- (bt1) -- (bt2) -- (bt3) -- (toeb12);
    \draw (bt3) -- (bt4) -- (danr01);
    \draw (bt4) -- (bt5) -- (bt6) -- (puza06);
    \draw (dikc03) -- (bt7) -- (bt8) -- (bt9) -- (kame01);
    \draw (bt7) -- (karo03);
    \draw (dikc03) -- (bt10) -- (shen06);
    \draw (bt10) -- (tink01);
    \draw (bt10) -- (karo03);

\end{tikzpicture}
\end{document}
